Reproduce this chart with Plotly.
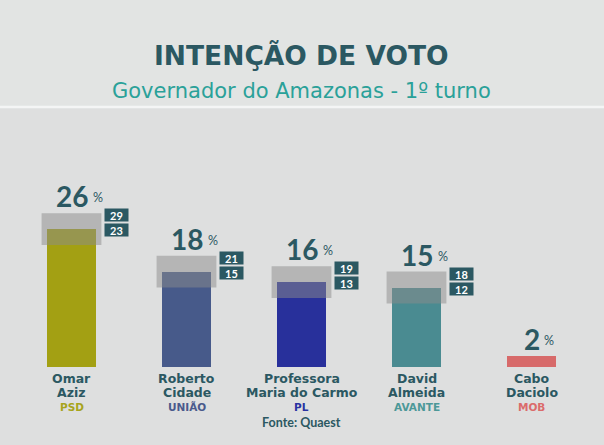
import plotly.graph_objects as go

# ---- data ----
names_line1 = ["Omar", "Roberto", "Professora", "David", "Cabo"]
names_line2 = ["Aziz", "Cidade", "Maria do Carmo", "Almeida", "Daciolo"]
parties = ["PSD", "UNIÃO", "PL", "AVANTE", "MOB"]
values = [26, 18, 16, 15, 2]
upper = [29, 21, 19, 18, None]
lower = [23, 15, 13, 12, None]
title = "INTENÇÃO DE VOTO"
subtitle = "Governador do Amazonas - 1º turno"
source = "Fonte: Quaest"

bar_colors = ["#a3a013", "#475a8a", "#28309b", "#4a8b91", "#d76a6a"]
party_colors = ["#a7a41c", "#4a5a8c", "#2a33a2", "#4c9898", "#db6b6b"]
dark = "#2b5862"
teal = "#2aa199"
bg = "#dedfdf"
FONT = "Lato"
WIDE = "DejaVu Sans"

x = list(range(len(values)))

fig = go.Figure()
fig.add_trace(go.Bar(
    x=x, y=values, width=0.42,
    marker=dict(color=bar_colors, line=dict(width=0)),
    hoverinfo="skip",
))

shapes = []
annotations = []

H_PLOT = 265.0
BOTTOM_PX = 367.0


def py(px):
    return (BOTTOM_PX - px) / H_PLOT


# header band and separator line
shapes.append(dict(type="rect", xref="paper", yref="paper", x0=-0.05, x1=1.05,
                   y0=py(107), y1=py(-5), fillcolor="#e2e4e3", line=dict(width=0), layer="below"))
shapes.append(dict(type="line", xref="paper", yref="paper", x0=-0.05, x1=1.05,
                   y0=py(107), y1=py(107), line=dict(color="#f4f5f5", width=2.5)))

for i, v in enumerate(values):
    top = upper[i] if upper[i] is not None else v
    if upper[i] is not None:
        shapes.append(dict(type="rect", xref="x", yref="y",
                           x0=i - 0.26, x1=i + 0.26, y0=lower[i], y1=upper[i],
                           fillcolor="rgba(140,140,140,0.5)", line=dict(width=0), layer="above"))
        for val, ys in ((upper[i], -2), (lower[i], -17)):
            annotations.append(dict(
                x=i, y=upper[i], xref="x", yref="y", xshift=45, yshift=ys,
                text=f"<b>{val}</b>", showarrow=False, xanchor="center", yanchor="middle",
                width=23, height=12, bgcolor=dark, borderpad=0,
                font=dict(family=FONT, size=11, color="white"),
            ))
    n_digits = len(str(v))
    annotations.append(dict(
        x=i, y=top, xref="x", yref="y", xshift=0, yshift=-2,
        text=f"<b>{v}</b>", showarrow=False, xanchor="center", yanchor="bottom",
        font=dict(family=FONT, size=28, color=dark),
    ))
    annotations.append(dict(
        x=i, y=top, xref="x", yref="y", xshift=8.5 * n_digits + 2, yshift=6,
        text="%", showarrow=False, xanchor="left", yanchor="bottom",
        font=dict(family=FONT, size=12.5, color=dark),
    ))
    # names below
    for txt, ypx, col, sz in ((names_line1[i], 378, dark, 12.5),
                              (names_line2[i], 392, dark, 12.5),
                              (parties[i], 406.5, party_colors[i], 10.5)):
        annotations.append(dict(
            x=i, y=py(ypx), xref="x", yref="paper", text=f"<b>{txt}</b>",
            showarrow=False, xanchor="center", yanchor="middle",
            font=dict(family=WIDE, size=sz, color=col),
        ))

annotations.append(dict(x=2, y=py(422.5), xref="x", yref="paper", text=f"<b>{source}</b>",
                        showarrow=False, xanchor="center", yanchor="middle",
                        font=dict(family=FONT, size=12.5, color=dark)))
annotations.append(dict(x=0.5, y=py(55.5), xref="paper", yref="paper", text=f"<b>{title}</b>",
                        showarrow=False, xanchor="center", yanchor="middle",
                        font=dict(family=WIDE, size=26.5, color=dark)))
annotations.append(dict(x=0.5, y=py(91), xref="paper", yref="paper", text=subtitle,
                        showarrow=False, xanchor="center", yanchor="middle",
                        font=dict(family=WIDE, size=21, color=teal)))

fig.update_layout(
    width=604, height=445,
    margin=dict(l=14, r=15, t=102, b=78),
    paper_bgcolor=bg, plot_bgcolor=bg,
    showlegend=False,
    bargap=0,
    xaxis=dict(range=[-0.5, 4.5], showticklabels=False, showgrid=False, zeroline=False,
               showline=False, ticks="", fixedrange=True),
    yaxis=dict(range=[0, 50], showticklabels=False, showgrid=False, zeroline=False,
               showline=False, ticks="", fixedrange=True),
    shapes=shapes,
    annotations=annotations,
)

fig.write_html(
    "out.html",
    config={"displayModeBar": False},
    post_script="document.body.style.margin='0';document.body.style.background='" + bg + "';",
)
